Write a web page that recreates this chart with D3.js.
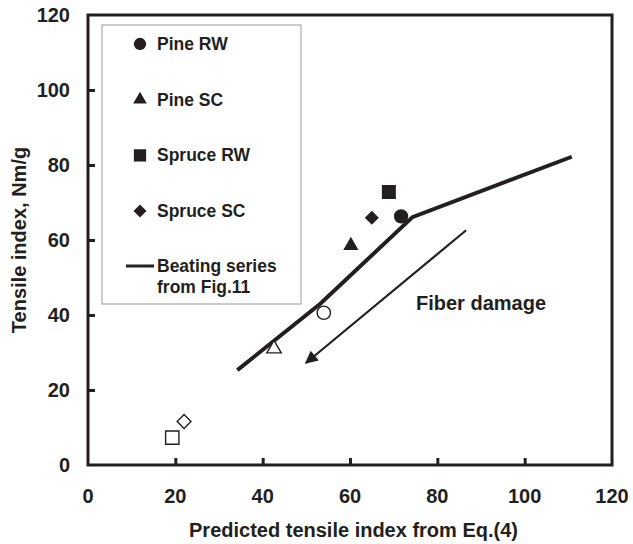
<!DOCTYPE html>
<html>
<head>
<meta charset="utf-8">
<script src="https://cdn.jsdelivr.net/npm/d3@7"></script>
<style>
  body { margin: 0; background: #fff; }
  svg text { font-family: "Liberation Sans", Arial, sans-serif; font-weight: bold; fill: #231f20; }
</style>
</head>
<body>
<svg id="chart" width="633" height="544"></svg>
<script>
// Measured vs predicted tensile index
const seriesNames = ["Pine RW", "Pine SC", "Spruce RW", "Spruce SC"];
const seriesShapes = ["circle", "triangle", "square", "diamond"];
// [predicted, measured] pairs: filled (first point) and open (second point)
const filledPoints = [[71.7, 66.3], [60.2, 58.5], [68.9, 72.8], [65.0, 65.9]];
const openPoints = [[54.0, 40.6], [42.6, 31.0], [19.3, 7.3], [22.0, 11.6]];
const beatingSeries = [[34.2, 25.3], [53.2, 43.0], [74.3, 66.1], [110.8, 82.2]];
const damageArrow = [[86.6, 62.6], [49.9, 27.2]];
const xTicks = [0, 20, 40, 60, 80, 100, 120];
const yTicks = [0, 20, 40, 60, 80, 100, 120];

const svg = d3.select("#chart");
const ink = "#231f20";
const x = d3.scaleLinear().domain([0, 120]).range([88, 612]);
const y = d3.scaleLinear().domain([0, 120]).range([465, 15]);

// Symbol generator; the diamond is a square turned by 45 degrees
function shapePath(shape, size) {
  const type = { circle: d3.symbolCircle, triangle: d3.symbolTriangle,
                 square: d3.symbolSquare, diamond: d3.symbolSquare }[shape];
  return d3.symbol().type(type).size(size)();
}
function shapeTransform(shape, cx, cy) {
  return `translate(${cx},${cy})` + (shape === "diamond" ? " rotate(45)" : "");
}

// Frame
svg.append("rect")
  .attr("x", x(0)).attr("y", y(120))
  .attr("width", x(120) - x(0)).attr("height", y(0) - y(120))
  .attr("fill", "none").attr("stroke", ink).attr("stroke-width", 3);

// Axes with inward ticks
const xAxis = svg.append("g").attr("transform", `translate(0,${y(0)})`)
  .call(d3.axisTop(x).tickValues(xTicks.slice(1, -1)).tickSize(7).tickFormat(""));
xAxis.select(".domain").remove();
xAxis.selectAll("line").attr("stroke", ink).attr("stroke-width", 3);
const yAxis = svg.append("g").attr("transform", `translate(${x(0)},0)`)
  .call(d3.axisRight(y).tickValues(yTicks.slice(1, -1)).tickSize(7).tickFormat(""));
yAxis.select(".domain").remove();
yAxis.selectAll("line").attr("stroke", ink).attr("stroke-width", 3);

// Tick labels
svg.append("g").selectAll("text").data(xTicks).join("text")
  .attr("x", d => x(d)).attr("y", y(0) + 38)
  .attr("text-anchor", "middle").attr("font-size", 20).text(d => d);
svg.append("g").selectAll("text").data(yTicks).join("text")
  .attr("x", x(0) - 18).attr("y", d => y(d) + 7)
  .attr("text-anchor", "end").attr("font-size", 20).text(d => d);

// Axis titles
svg.append("text").attr("x", (x(0) + x(120)) / 2 + 3.5).attr("y", 537)
  .attr("text-anchor", "middle").attr("font-size", 20)
  .text("Predicted tensile index from Eq.(4)");
svg.append("text").attr("transform", `translate(25.5,${y(60)}) rotate(-90)`)
  .attr("text-anchor", "middle").attr("font-size", 20)
  .text("Tensile index, Nm/g");

// Beating series line
const line = d3.line().x(d => x(d[0])).y(d => y(d[1]));
svg.append("path").datum(beatingSeries).attr("d", line)
  .attr("fill", "none").attr("stroke", ink).attr("stroke-width", 4)
  .attr("stroke-linejoin", "miter");

// Fiber damage arrow
svg.append("defs").append("marker")
  .attr("id", "head").attr("viewBox", "0 0 10 10")
  .attr("refX", 9).attr("refY", 5)
  .attr("markerWidth", 7).attr("markerHeight", 5.8)
  .attr("markerUnits", "strokeWidth").attr("orient", "auto")
  .append("path").attr("d", "M0,0 L10,5 L0,10 Z").attr("fill", ink);
svg.append("path").datum(damageArrow).attr("d", line)
  .attr("fill", "none").attr("stroke", ink).attr("stroke-width", 2.2)
  .attr("marker-end", "url(#head)");
svg.append("text").attr("x", 416).attr("y", 310).attr("font-size", 20)
  .text("Fiber damage");

// Data markers (symbol areas in px^2)
const filledSizes = [160, 100, 196, 98];
const openSizes = [139, 90, 177, 96];
seriesShapes.forEach((shape, i) => {
  svg.append("path").attr("d", shapePath(shape, filledSizes[i]))
    .attr("transform", shapeTransform(shape, x(filledPoints[i][0]), y(filledPoints[i][1])))
    .attr("fill", ink);
  svg.append("path").attr("d", shapePath(shape, openSizes[i]))
    .attr("transform", shapeTransform(shape, x(openPoints[i][0]), y(openPoints[i][1])))
    .attr("fill", "#fff").attr("stroke", ink).attr("stroke-width", 1.4);
});

// Legend
const lg = svg.append("g");
lg.append("rect").attr("x", 102).attr("y", 25).attr("width", 199).attr("height", 279)
  .attr("fill", "#fff").attr("stroke", "#9a9a9a").attr("stroke-width", 1);
const legendSizes = [119, 80, 151, 85];
seriesNames.forEach((name, i) => {
  const cy = 44 + i * 55.7;
  lg.append("path").attr("d", shapePath(seriesShapes[i], legendSizes[i]))
    .attr("transform", shapeTransform(seriesShapes[i], 140, cy)).attr("fill", ink);
  lg.append("text").attr("x", 157).attr("y", cy + 6).attr("font-size", 17.5).text(name);
});
lg.append("line").attr("x1", 126).attr("x2", 154).attr("y1", 266).attr("y2", 266)
  .attr("stroke", ink).attr("stroke-width", 3);
lg.append("text").attr("x", 157).attr("y", 272).attr("font-size", 17.5).text("Beating series");
lg.append("text").attr("x", 157).attr("y", 293).attr("font-size", 17.5).text("from Fig.11");
</script>
</body>
</html>
